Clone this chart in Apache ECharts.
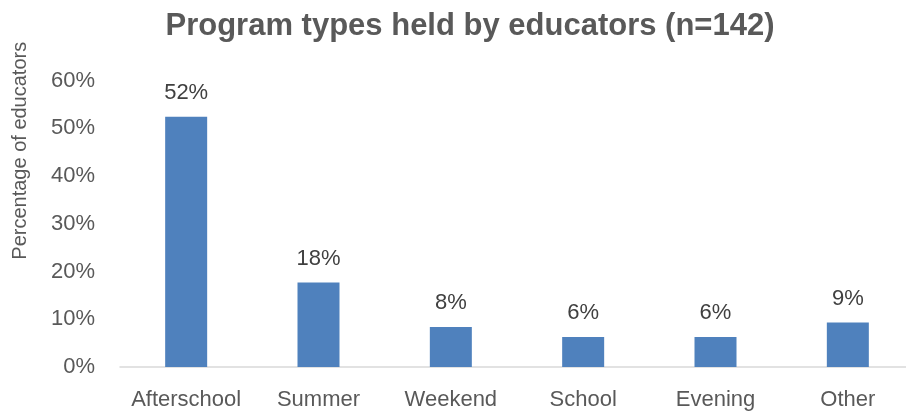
<!DOCTYPE html>
<html>
<head>
<meta charset="utf-8">
<script src="https://cdn.jsdelivr.net/npm/echarts@6/dist/echarts.min.js"></script>
<style>
html,body{margin:0;padding:0;background:#fff;}
#chart{width:906px;height:417px;}
</style>
</head>
<body>
<div id="chart"></div>
<script>
const titleText = "Program types held by educators (n=142)";
const yAxisName = "Percentage of educators";
const categories = ["Afterschool", "Summer", "Weekend", "School", "Evening", "Other"];
const values = [52.4, 17.7, 8.4, 6.3, 6.3, 9.3];
const yTicks = [0, 10, 20, 30, 40, 50, 60];

const FONT = "'Liberation Sans', Arial, sans-serif";
const chart = echarts.init(document.getElementById('chart'), null, {renderer: 'canvas'});
chart.setOption({
  animation: false,
  backgroundColor: '#ffffff',
  title: {
    text: titleText,
    left: 465, top: 6, textAlign: 'center',
    textStyle: {fontFamily: FONT, fontWeight: 'bold', fontSize: 31, color: '#595959'}
  },
  grid: {left: 120, top: 80.5, bottom: 50, width: 794, containLabel: false, outerBoundsMode: 'none'},
  xAxis: {
    type: 'category',
    data: categories,
    axisLine: {lineStyle: {color: '#d9d9d9', width: 1.5}},
    axisTick: {show: false},
    axisLabel: {fontFamily: FONT, fontSize: 22, color: '#595959', margin: 22, interval: 0}
  },
  yAxis: {
    type: 'value',
    min: yTicks[0], max: yTicks[yTicks.length - 1], interval: 10,
    name: yAxisName,
    nameLocation: 'middle',
    nameGap: 90,
    nameTextStyle: {fontFamily: FONT, fontSize: 20, color: '#595959', padding: [0, 0, 0, 146]},
    axisLine: {show: false},
    axisTick: {show: false},
    splitLine: {show: false},
    axisLabel: {fontFamily: FONT, fontSize: 22, color: '#595959', margin: 25,
      formatter: v => v + '%'}
  },
  series: [{
    type: 'bar',
    data: values,
    barWidth: 42,
    itemStyle: {color: '#4f81bd'},
    label: {
      show: true, position: 'top', distance: 13,
      fontFamily: FONT, fontSize: 22, color: '#404040',
      formatter: p => Math.round(p.value) + '%'
    }
  }]
});
</script>
</body>
</html>
